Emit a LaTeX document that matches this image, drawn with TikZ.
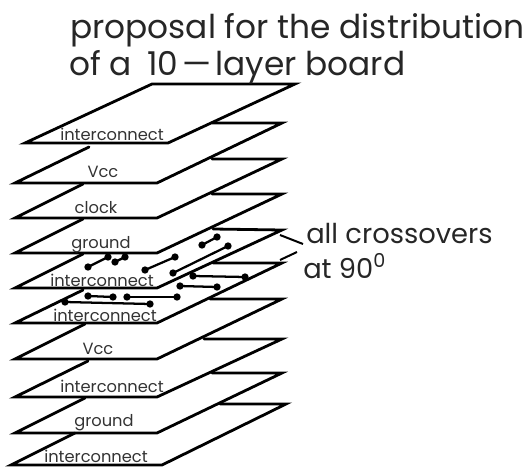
\documentclass[tikz,border=0pt]{standalone}
\usepackage{fontspec}
\setmainfont{Poppins}
\tikzset{
  plane/.style={line width=2.1pt,line join=miter,line cap=round,color=black},
  trace/.style={line width=1.7pt,line cap=round,color=black},
  pad/.style={circle,fill=black,inner sep=0pt,minimum size=5.5pt},
  lead/.style={line width=1.5pt,color=black},
  lbl/.style={font=\fontsize{12.2pt}{13pt}\selectfont,text=black!80,inner sep=0pt},
  note/.style={font=\fontsize{20.5pt}{22pt}\selectfont,text=black!85,inner sep=0pt,anchor=base west},
  title/.style={font=\fontsize{24.6pt}{25pt}\selectfont,text=black!85,inner sep=0pt,anchor=base west}
}
\newcommand{\tracepad}[4]{%
  \node[pad] at (#1,#2) {};\node[pad] at (#3,#4) {};
  \draw[trace] (#1,#2) -- (#3,#4);}
\begin{document}
\begin{tikzpicture}[x=0.75pt,y=-0.75pt]
\useasboundingbox (0,0) rectangle (528,467);
% planes
\draw[plane] (25,143) -- (168,143) -- (295,84) -- (152,84) -- cycle;
\draw[plane] (89,147) -- (15,183) -- (157,183) -- (282,123) -- (212,123);
\draw[plane] (83,184) -- (15,218) -- (157,218) -- (282,159) -- (212,159);
\draw[plane] (83,219) -- (15,253) -- (157,253) -- (282,194) -- (212,194);
\draw[plane] (83,254) -- (15,288) -- (157,288) -- (282,230) -- (213,229);
\draw[plane] (83,290) -- (15,323) -- (157,323) -- (282,263) -- (213,263);
\draw[plane] (85,324) -- (15,359) -- (157,359) -- (282,299) -- (210,299);
\draw[plane] (88,361) -- (15,397) -- (157,397) -- (282,339) -- (204,339);
\draw[plane] (85,398) -- (15,433) -- (157,433) -- (282,373) -- (212,373);
\draw[plane] (75,433) -- (11,465) -- (162,465) -- (286,404) -- (220,404);
% traces
\tracepad{88}{267}{108}{257}
\tracepad{115}{262}{125}{257}
\tracepad{145}{270}{175}{257}
\tracepad{173}{273}{228}{246}
\tracepad{202}{245}{217}{237}
\tracepad{193}{276}{245}{277}
\tracepad{180}{286}{217}{287}
\tracepad{88}{296}{113}{297}
\tracepad{127}{297}{177}{297}
\tracepad{65}{302}{150}{304}
% labels
\node[lbl] (l1) at (112,134) {interconnect};
\node[lbl] (l2) at (103,172) {Vcc};
\node[lbl] (l3) at (96,208) {clock};
\node[lbl] (l4) at (101,245) {ground};
\node[lbl] (l5) at (102,280) {interconnect};
\node[lbl] (l6) at (105,315) {interconnect};
\node[lbl] (l7) at (98,349) {Vcc};
\node[lbl] (l8) at (112,386) {interconnect};
\node[lbl] (l9) at (104,423) {ground};
\node[lbl] (l10) at (96,456) {interconnect};
% notes
\node[title] (t1) at (70,39) {proposal for the distribution};
\node[title] (t2) at (69,75) {of a\hspace{5pt} 10\hspace{3pt}---\hspace{3pt}layer board};
\node[note] (n1) at (306,243) {all crossovers};
\node[note] (n2) at (303,278) {at 90\textsuperscript{0}};
\coordinate (a1) at (280,235);
\coordinate (a2) at (303,244);
\coordinate (b1) at (280,260);
\coordinate (b2) at (297,252);
\draw[lead] (a1) -- (a2);
\draw[lead] (b1) -- (b2);
\end{tikzpicture}
\end{document}
